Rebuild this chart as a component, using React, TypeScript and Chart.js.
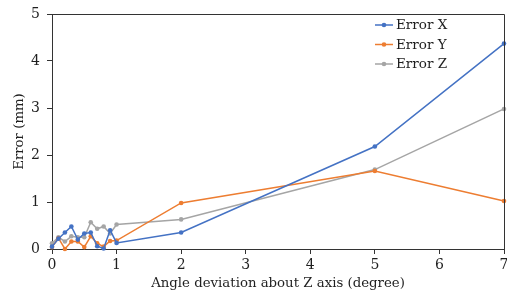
import React, { useEffect, useRef } from "react";
import { Chart, registerables } from "chart.js";

Chart.register(...registerables);

const xValues = [0, 0.1, 0.2, 0.3, 0.4, 0.5, 0.6, 0.7, 0.8, 0.9, 1, 2, 5, 7];
const errorX = [0.05, 0.22, 0.35, 0.48, 0.2, 0.33, 0.35, 0.06, 0.01, 0.4, 0.13, 0.35, 2.18, 4.37];
const errorY = [0.04, 0.23, 0.0, 0.16, 0.16, 0.04, 0.27, 0.12, 0.05, 0.17, 0.18, 0.98, 1.66, 1.02];
const errorZ = [0.12, 0.25, 0.16, 0.27, 0.25, 0.25, 0.57, 0.43, 0.48, 0.33, 0.52, 0.63, 1.69, 2.98];
const seriesLabels = ["Error X", "Error Y", "Error Z"];
const seriesColors = ["#4472C4", "#ED7D31", "#A5A5A5"];
const xTitle = "Angle deviation about Z axis (degree)";
const yTitle = "Error (mm)";

const FONT = "'DejaVu Serif', serif";
const AXIS = "#333333";
const TEXT = "#1f1f1f";

const boxAndLegend = {
  id: "boxAndLegend",
  afterDatasetsDraw(chart: any) {
    const { ctx, chartArea } = chart;
    ctx.save();
    ctx.strokeStyle = AXIS;
    ctx.lineWidth = 1;
    ctx.beginPath();
    ctx.moveTo(chartArea.left, chartArea.top + 0.5);
    ctx.lineTo(chartArea.right + 0.5, chartArea.top + 0.5);
    ctx.lineTo(chartArea.right + 0.5, chartArea.bottom);
    ctx.stroke();

    const x0 = 375;
    const x1 = 393;
    chart.data.datasets.forEach((ds: any, i: number) => {
      const y = 25 + i * 19.5;
      ctx.strokeStyle = ds.borderColor;
      ctx.lineWidth = 1.5;
      ctx.beginPath();
      ctx.moveTo(x0, y);
      ctx.lineTo(x1, y);
      ctx.stroke();
      ctx.fillStyle = ds.borderColor;
      ctx.beginPath();
      ctx.arc((x0 + x1) / 2, y, 2.3, 0, Math.PI * 2);
      ctx.fill();
      ctx.fillStyle = TEXT;
      ctx.font = "13.5px " + FONT;
      ctx.textAlign = "left";
      ctx.textBaseline = "middle";
      ctx.fillText(ds.label, x1 + 3, y + 0.5);
    });
    ctx.restore();
  },
};

export default function App() {
  const ref = useRef<HTMLCanvasElement>(null);
  useEffect(() => {
    if (!ref.current) return;
    const mk = (vals: number[]) => xValues.map((x, i) => ({ x, y: vals[i] }));
    const all = [errorX, errorY, errorZ];
    const chart = new Chart(ref.current, {
      type: "scatter",
      data: {
        datasets: all.map((vals, i) => ({
          label: seriesLabels[i],
          data: mk(vals),
          showLine: true,
          borderColor: seriesColors[i],
          backgroundColor: seriesColors[i],
          borderWidth: 1.5,
          pointRadius: 2.3,
          pointBorderWidth: 0,
          pointHoverRadius: 2.3,
          tension: 0,
          clip: false as any,
        })),
      },
      options: {
        animation: false,
        responsive: false,
        maintainAspectRatio: false,
        layout: { padding: { left: 0, top: 14, right: 3, bottom: 0 } },
        plugins: { legend: { display: false }, tooltip: { enabled: false } },
        scales: {
          x: {
            type: "linear",
            min: 0,
            max: 7,
            ticks: { stepSize: 1, color: TEXT, font: { family: FONT, size: 14 }, padding: 3, maxRotation: 0 },
            grid: { display: true, drawOnChartArea: false, drawTicks: true, tickLength: 5, color: AXIS },
            border: { display: true, color: AXIS, width: 1 },
            title: { display: true, text: xTitle, color: TEXT, font: { family: FONT, size: 13.3 }, padding: { top: 0, bottom: 3 } },
            afterFit: (s: any) => {
              s.height = 46;
              s.paddingLeft = 0;
              s.paddingRight = 0;
            },
          },
          y: {
            type: "linear",
            min: 0,
            max: 5,
            ticks: { stepSize: 1, color: TEXT, font: { family: FONT, size: 14 }, padding: 7 },
            grid: { display: true, drawOnChartArea: false, drawTicks: true, tickLength: 5, color: AXIS },
            border: { display: true, color: AXIS, width: 1 },
            title: { display: true, text: yTitle, color: TEXT, font: { family: FONT, size: 13.3 }, padding: { top: 12, bottom: 0 } },
            afterFit: (s: any) => {
              s.width = 52;
              s.paddingTop = 0;
              s.paddingBottom = 0;
            },
          },
        },
      },
      plugins: [boxAndLegend],
    });
    return () => chart.destroy();
  }, []);
  return (
    <div style={{ position: "fixed", left: 0, top: 0, width: 507, height: 295, background: "#fff" }}>
      <canvas ref={ref} width={507} height={295} style={{ display: "block" }} />
    </div>
  );
}
